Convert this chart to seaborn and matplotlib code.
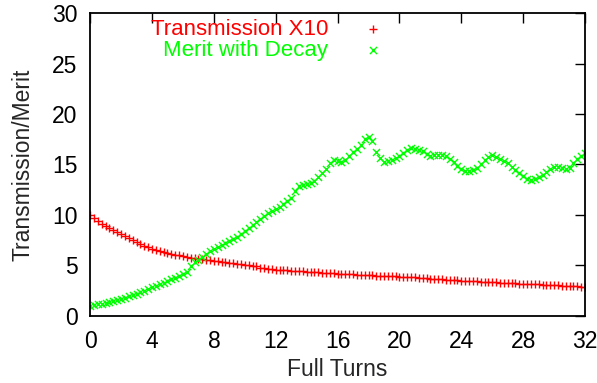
import numpy as np
import pandas as pd
import matplotlib
matplotlib.use("Agg")
import matplotlib.pyplot as plt
import seaborn as sns

# full turns, sampled every quarter turn
turns = [i * 0.25 for i in range(129)]

transmission_x10 = [
    10.0, 9.7, 9.4, 9.1, 8.9, 8.7, 8.5, 8.3, 8.1, 7.9, 7.7, 7.5, 7.3, 7.1, 6.9, 6.8,
    6.6, 6.5, 6.4, 6.3, 6.2, 6.1, 6.0, 6.0, 5.9, 5.8, 5.7, 5.7, 5.6, 5.6, 5.5, 5.5,
    5.4, 5.4, 5.3, 5.3, 5.2, 5.2, 5.1, 5.1, 5.0, 5.0, 4.9, 4.9, 4.8, 4.8, 4.7, 4.7,
    4.6,
    4.57, 4.55, 4.52, 4.50, 4.47, 4.45, 4.42, 4.40, 4.37, 4.35, 4.32, 4.30, 4.27, 4.25, 4.22, 4.20,
    4.18, 4.16, 4.14, 4.12, 4.10, 4.08, 4.06, 4.04, 4.02, 4.00, 3.98, 3.96, 3.94, 3.92, 3.91, 3.90,
    3.88, 3.86, 3.83, 3.81, 3.78, 3.76, 3.73, 3.71, 3.68, 3.66, 3.63, 3.61, 3.58, 3.55, 3.53, 3.50,
    3.48, 3.46, 3.44, 3.42, 3.40, 3.38, 3.36, 3.34, 3.32, 3.30, 3.28, 3.27, 3.25, 3.23, 3.21, 3.20,
    3.18, 3.16, 3.14, 3.12, 3.10, 3.08, 3.06, 3.04, 3.02, 3.00, 2.99, 2.97, 2.95, 2.93, 2.91, 2.90,
]

merit_decay = [
    1.0, 1.1, 1.2, 1.2, 1.3, 1.4, 1.5, 1.6, 1.7, 1.8, 2.0, 2.1, 2.2, 2.4, 2.5, 2.7,
    2.9, 3.0, 3.2, 3.3, 3.5, 3.7, 3.8, 4.0, 4.2, 4.4, 4.9, 5.3, 5.5, 5.8, 6.1, 6.4,
    6.6, 6.8, 7.0, 7.2, 7.4, 7.6, 7.8, 8.1, 8.4, 8.7, 9.0, 9.3, 9.6, 9.9, 10.2, 10.4,
    10.6, 10.8, 11.1, 11.4, 11.7, 12.4, 12.9, 13.0, 13.1, 13.2, 13.4, 13.8, 14.2, 14.6,
    15.1, 15.4, 15.3, 15.2, 15.4, 15.8, 16.2, 16.5, 16.9, 17.5, 17.7, 17.3, 16.2, 15.6,
    15.2, 15.3, 15.4, 15.6, 15.8, 16.1, 16.4, 16.6, 16.5, 16.4, 16.3, 16.0, 15.8, 15.9,
    15.9, 15.9, 15.8, 15.5, 15.2, 14.9, 14.6, 14.4, 14.4, 14.5, 14.7, 15.0, 15.4, 15.7,
    15.9, 15.7, 15.5, 15.3, 15.1, 14.8, 14.5, 14.2, 13.9, 13.6, 13.5, 13.6, 13.8, 14.0,
    14.3, 14.6, 14.8, 14.8, 14.7, 14.6, 14.7, 15.1, 15.5, 15.8, 16.1,
]

x_ticks = [0, 4, 8, 12, 16, 20, 24, 28, 32]
y_ticks = [0, 5, 10, 15, 20, 25, 30]

df = pd.DataFrame({"turns": turns, "trans": transmission_x10, "merit": merit_decay})

sns.set_style("white")
plt.rcParams["font.family"] = ["Liberation Sans", "DejaVu Sans"]
fs = 16.5

fig = plt.figure(figsize=(5.97, 3.83), dpi=100)
ax = fig.add_axes([0.151, 0.175, 0.829, 0.791])

sns.scatterplot(data=df, x="turns", y="trans", ax=ax, marker="+", color="#ff0000",
                s=30, linewidth=1.0, label="Transmission X10")
sns.scatterplot(data=df, x="turns", y="merit", ax=ax, marker="x", color="#00ff00",
                s=26, linewidth=1.0, label="Merit with Decay")

ax.set_xlim(0, 32)
ax.set_ylim(0, 30)
ax.set_xticks(x_ticks)
ax.set_yticks(y_ticks)
ax.tick_params(direction="in", length=7, width=1.0, top=True, right=True,
               labelsize=fs, colors="black")
ax.tick_params(axis="x", pad=10)
ax.tick_params(axis="y", pad=9)
for sp in ax.spines.values():
    sp.set_color("black")
    sp.set_linewidth(1.3)

ax.set_xlabel("Full Turns", fontsize=fs, labelpad=4)
ax.set_ylabel("Transmission/Merit", fontsize=fs, labelpad=13)

leg = ax.legend(loc="upper left", bbox_to_anchor=(0.105, 1.01), frameon=False,
                markerfirst=False, fontsize=16, handletextpad=1.5,
                labelspacing=0.0, handlelength=1.0, borderaxespad=0)
for txt, col in zip(leg.get_texts(), ["#ff0000", "#00ff00"]):
    txt.set_color(col)

fig.savefig("out.png", dpi=100)
